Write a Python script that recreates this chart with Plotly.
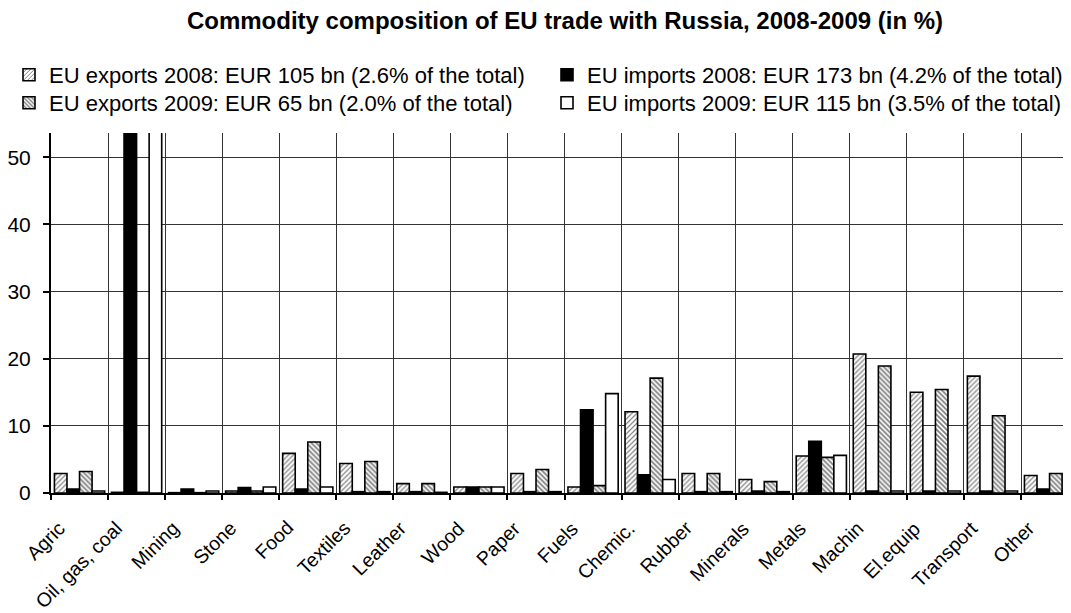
import plotly.graph_objects as go

categories = ["Agric", "Oil, gas, coal", "Mining", "Stone", "Food", "Textiles", "Leather",
              "Wood", "Paper", "Fuels", "Chemic.", "Rubber", "Minerals", "Metals",
              "Machin", "El.equip", "Transport", "Other"]

exports_2008 = [2.9, 0.1, 0.05, 0.3, 5.9, 4.4, 1.4, 0.9, 2.9, 0.9, 12.1, 2.9, 2.0, 5.5, 20.7, 15.0, 17.4, 2.6]
imports_2008 = [0.6, 75.0, 0.6, 0.8, 0.6, 0.2, 0.2, 0.9, 0.2, 12.4, 2.7, 0.2, 0.3, 7.7, 0.3, 0.3, 0.3, 0.6]
exports_2009 = [3.2, 0.1, 0.05, 0.3, 7.6, 4.7, 1.4, 0.9, 3.5, 1.1, 17.1, 2.9, 1.7, 5.3, 18.9, 15.4, 11.5, 2.9]
imports_2009 = [0.3, 75.0, 0.3, 0.9, 0.9, 0.2, 0.1, 0.9, 0.2, 14.8, 2.0, 0.2, 0.2, 5.6, 0.3, 0.3, 0.3, 0.3]

names = ["EU exports 2008: EUR 105 bn (2.6% of the total)",
         "EU imports 2008: EUR 173 bn (4.2% of the total)",
         "EU exports 2009: EUR 65 bn (2.0% of the total)",
         "EU imports 2009: EUR 115 bn (3.5% of the total)"]

y_ticks = [0, 10, 20, 30, 40, 50]

FONT = "Liberation Sans, Arial, sans-serif"
line = dict(color="black", width=1.6)

# page is drawn with an 8px body offset; figure coordinates are reference - 8
W, H = 1063, 605
L, T, B = 43, 125, 120
PW, PH = W - L, H - T - B


def px_x(px):
    return (px - L) / PW


def px_y(px):
    return (H - B - px) / PH


fig = go.Figure()
fig.add_bar(x=categories, y=exports_2008, name=names[0], legend="legend",
            marker=dict(color="white", line=line,
                        pattern=dict(shape="/", fgcolor="black", bgcolor="white", size=3.5, solidity=0.35)))
fig.add_bar(x=categories, y=imports_2008, name=names[1], legend="legend2",
            marker=dict(color="black", line=line))
fig.add_bar(x=categories, y=exports_2009, name=names[2], legend="legend3",
            marker=dict(color="white", line=line,
                        pattern=dict(shape="\\", fgcolor="black", bgcolor="white", size=3.5, solidity=0.5)))
fig.add_bar(x=categories, y=imports_2009, name=names[3], legend="legend4",
            marker=dict(color="white", line=line))

legend_common = dict(orientation="v", yanchor="top", xanchor="left",
                     font=dict(family=FONT, size=22, color="black"),
                     bgcolor="rgba(0,0,0,0)", borderwidth=0,
                     itemclick=False, itemdoubleclick=False)

col1_x, col2_x = px_x(41 - 40), px_x(579 - 40)
row1_y, row2_y = px_y(69 - 23), px_y(97 - 23)

annotations = [dict(x=c, y=0, xref="x", yref="paper", text=c, textangle=-45,
                    showarrow=False, xanchor="right", yanchor="top", xshift=-8, yshift=-21,
                    font=dict(family=FONT, size=19.5, color="black"))
               for c in categories]

fig.update_layout(
    width=W, height=H,
    margin=dict(l=L, r=0, t=T, b=B, autoexpand=False),
    paper_bgcolor="white", plot_bgcolor="white",
    font=dict(family=FONT, color="black"),
    title=dict(text="<b>Commodity composition of EU trade with Russia, 2008-2009 (in %)</b>",
               x=557 / W, xref="container", xanchor="center",
               y=1 - 13 / H, yref="container", yanchor="middle",
               font=dict(family=FONT, size=24, color="black")),
    barmode="group", bargap=0.12, bargroupgap=0,
    showlegend=True,
    legend=dict(x=col1_x, y=row1_y, **legend_common),
    legend2=dict(x=col2_x, y=row1_y, **legend_common),
    legend3=dict(x=col1_x, y=row2_y, **legend_common),
    legend4=dict(x=col2_x, y=row2_y, **legend_common),
    annotations=annotations,
    xaxis=dict(type="category", range=[-0.5, -0.5 + PW / 57.06],
               tickson="boundaries", ticks="outside", ticklen=5, tickwidth=1.5, tickcolor="black",
               showticklabels=False,
               showgrid=True, gridcolor="#333333", gridwidth=1,
               showline=True, linecolor="black", linewidth=2,
               zeroline=False),
    yaxis=dict(range=[0, 53.6], tickvals=y_ticks, ticktext=[str(v) for v in y_ticks],
               ticks="outside", ticklen=6, tickwidth=1.5, tickcolor="black",
               ticklabelstandoff=8,
               showgrid=True, gridcolor="#333333", gridwidth=1,
               showline=True, linecolor="black", linewidth=2,
               tickfont=dict(family=FONT, size=21, color="black"),
               zeroline=False),
)

fig.write_html("out.html")
